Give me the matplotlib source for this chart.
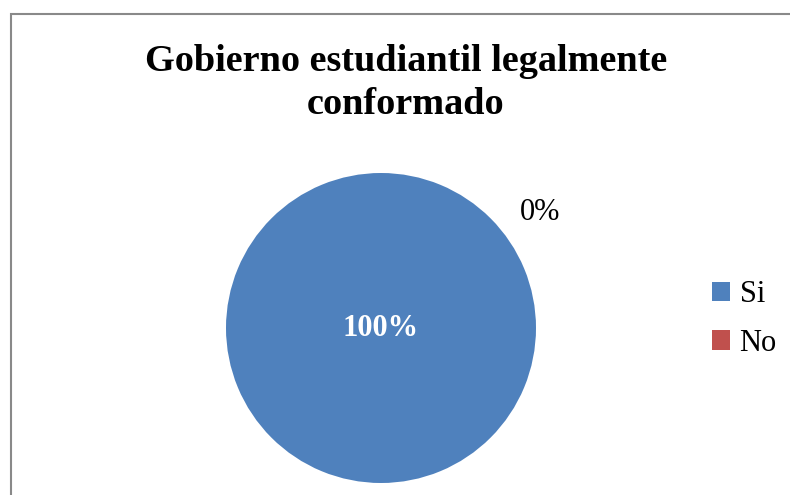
import matplotlib
matplotlib.use("Agg")
import matplotlib.pyplot as plt
from matplotlib.patches import Rectangle

# data
categories = ["Si", "No"]
values = [100, 0]
colors = ["#4F81BD", "#C0504D"]
title = "Gobierno estudiantil legalmente\nconformado"

plt.rcParams['font.family'] = ['Liberation Serif', 'DejaVu Serif']

W, H = 790, 495
fig = plt.figure(figsize=(W / 100, H / 100), dpi=100)

# pie centre (381, 328) px, radius 155 px
cx, cy, r = 381, 328, 155
pad = 1.02
ax = fig.add_axes([(cx - r * pad) / W, (H - cy - r * pad) / H, 2 * r * pad / W, 2 * r * pad / H])

wedges, texts, autotexts = ax.pie(values, colors=colors, startangle=36, counterclock=False,
                                  autopct='%1.0f%%', pctdistance=1.27,
                                  textprops={'fontsize': 22, 'color': 'black'})
ax.set_xlim(-pad, pad)
ax.set_ylim(-pad, pad)
ax.set_aspect('equal')
ax.axis('off')

# the big slice carries its label in the middle
autotexts[0].set_position((0, 0))
autotexts[0].set_color('white')
autotexts[0].set_fontweight('bold')

fig.text(406 / W, 1 - 83 / H, title, ha='center', va='center', fontsize=27.5,
         fontweight='bold', linespacing=1.28)

leg = fig.legend(wedges, categories, loc='center left', bbox_to_anchor=(712 / W, 1 - 319 / H),
                 frameon=False, fontsize=22, handlelength=0.6, handleheight=0.6,
                 handletextpad=0.3, labelspacing=0.65, borderpad=0, borderaxespad=0)

# outer chart frame
fig.add_artist(Rectangle((10.5 / W, -0.1), 1.2, 1 - 14 / H + 0.1, transform=fig.transFigure,
                         fill=False, edgecolor='#898989', lw=1.5))

fig.savefig("out.png", dpi=100)
